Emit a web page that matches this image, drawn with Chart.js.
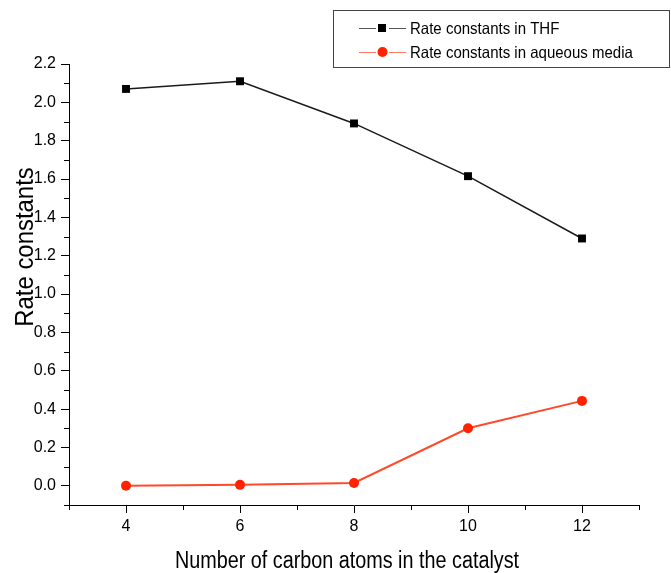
<!DOCTYPE html>
<html>
<head>
<meta charset="utf-8">
<script src="https://cdn.jsdelivr.net/npm/chart.js@4.4.0/dist/chart.umd.min.js"></script>
<style>html,body{margin:0;padding:0;background:#fff;}canvas{display:block;}</style>
</head>
<body>
<canvas id="chart" width="671" height="573"></canvas>
<script>
// data
const carbonAtoms = [4, 6, 8, 10, 12];
const rateTHF = [2.07, 2.11, 1.89, 1.615, 1.29];
const rateAqueous = [0.0, 0.005, 0.015, 0.30, 0.443];
const xMajorTicks = [4, 6, 8, 10, 12];
const xMinorTicks = [3, 5, 7, 9, 11, 13];
const yMajorTicks = [0.0, 0.2, 0.4, 0.6, 0.8, 1.0, 1.2, 1.4, 1.6, 1.8, 2.0, 2.2];
const yMinorTicks = [-0.1, 0.1, 0.3, 0.5, 0.7, 0.9, 1.1, 1.3, 1.5, 1.7, 1.9, 2.1];
const seriesNames = ['Rate constants in THF', 'Rate constants in aqueous media'];
const xTitle = 'Number of carbon atoms in the catalyst';
const yTitle = 'Rate constants';

const FONT = '"Liberation Sans", Arial, sans-serif';

function pts(ys){ return carbonAtoms.map((x,i)=>({x, y: ys[i]})); }

// titles, legend and minor ticks
const extras = {
  id: 'extras',
  afterDraw(chart){
    const ctx = chart.ctx, a = chart.chartArea;
    const sx = chart.scales.x, sy = chart.scales.y;
    ctx.save();
    ctx.strokeStyle = '#000'; ctx.lineWidth = 1;
    ctx.beginPath();
    yMinorTicks.forEach(v=>{ const p = Math.round(sy.getPixelForValue(v))+0.5; ctx.moveTo(a.left-5, p); ctx.lineTo(a.left, p); });
    xMinorTicks.forEach(v=>{ const p = Math.round(sx.getPixelForValue(v))+0.5; ctx.moveTo(p, a.bottom); ctx.lineTo(p, a.bottom+5); });
    ctx.stroke();

    ctx.fillStyle = '#000';
    // x title
    ctx.save();
    ctx.translate(347, 568);
    ctx.scale(0.86, 1);
    ctx.font = '23px ' + FONT;
    ctx.textAlign = 'center'; ctx.textBaseline = 'alphabetic';
    ctx.fillText(xTitle, 0, 0);
    ctx.restore();
    // y title
    ctx.save();
    ctx.translate(33, 247);
    ctx.rotate(-Math.PI/2);
    ctx.scale(0.92, 1);
    ctx.font = '26px ' + FONT;
    ctx.textAlign = 'center'; ctx.textBaseline = 'alphabetic';
    ctx.fillText(yTitle, 0, 0);
    ctx.restore();

    // legend
    ctx.strokeStyle = '#444';
    ctx.strokeRect(333.5, 10.5, 336, 57);
    const rows = [28, 52];
    chart.data.datasets.forEach((ds, i)=>{
      const y = rows[i];
      ctx.strokeStyle = i === 0 ? '#555' : '#ff7a66';
      ctx.lineWidth = 1;
      ctx.beginPath();
      ctx.moveTo(359, y+0.5); ctx.lineTo(376, y+0.5);
      ctx.moveTo(389, y+0.5); ctx.lineTo(406, y+0.5);
      ctx.stroke();
      ctx.fillStyle = ds.pointBackgroundColor;
      if (ds.pointStyle === 'rect') ctx.fillRect(378, y-4, 8, 8);
      else { ctx.beginPath(); ctx.arc(382.5, y, 5, 0, Math.PI*2); ctx.fill(); }
      ctx.save();
      ctx.translate(410, y+6);
      ctx.scale(0.91, 1);
      ctx.fillStyle = '#000';
      ctx.font = '16.5px ' + FONT;
      ctx.textAlign = 'left'; ctx.textBaseline = 'alphabetic';
      ctx.fillText(ds.label, 0, 0);
      ctx.restore();
    });
    ctx.restore();
  }
};

new Chart(document.getElementById('chart'), {
  type: 'scatter',
  data: {
    datasets: [
      { label: seriesNames[0], data: pts(rateTHF), showLine: true, borderColor: '#1a1a1a', borderWidth: 1.5,
        pointStyle: 'rect', pointRadius: 5.6, pointBackgroundColor: '#000', pointBorderWidth: 0 },
      { label: seriesNames[1], data: pts(rateAqueous), showLine: true, borderColor: '#ff4a2a', borderWidth: 2,
        pointStyle: 'circle', pointRadius: 5, pointBackgroundColor: '#ff2200', pointBorderWidth: 0 }
    ]
  },
  options: {
    responsive: false,
    animation: false,
    devicePixelRatio: 1,
    layout: { padding: { top: 64, right: 32, left: 0, bottom: 0 } },
    plugins: { legend: { display: false }, tooltip: { enabled: false } },
    scales: {
      x: {
        type: 'linear', min: 3, max: 13,
        afterBuildTicks: s => { s.ticks = xMajorTicks.map(v=>({value: v})); },
        afterFit: s => { s.height = 68; },
        grid: { drawOnChartArea: false, tickLength: 8, tickColor: '#000' },
        border: { color: '#000', width: 1 },
        ticks: { color: '#000', font: { family: FONT, size: 16 }, padding: 4, callback: v => String(v) }
      },
      y: {
        type: 'linear', min: -0.1, max: 2.2,
        afterBuildTicks: s => { s.ticks = yMajorTicks.map(v=>({value: v})); },
        afterFit: s => { s.width = 69; },
        grid: { drawOnChartArea: false, tickLength: 8, tickColor: '#000' },
        border: { color: '#000', width: 1 },
        ticks: { color: '#000', font: { family: FONT, size: 16 }, padding: 5, callback: v => Number(v).toFixed(1) }
      }
    }
  },
  plugins: [extras]
});
</script>
</body>
</html>
